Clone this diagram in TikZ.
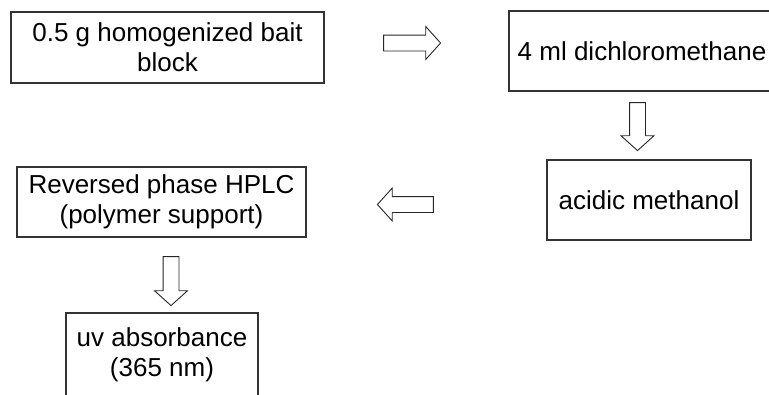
\documentclass[tikz,border=0pt]{standalone}
\usepackage{fontspec}
\setmainfont{Liberation Sans}
\usetikzlibrary{shapes.arrows, positioning}
\tikzstyle{process} = [rectangle, draw=black!80, line width=1.2pt, align=center, inner sep=0pt, font=\fontsize{26}{30}\selectfont]
\tikzstyle{flow} = [single arrow, draw=black!85, line width=0.9pt, inner sep=7.5pt, minimum width=32pt, single arrow head extend=8.5pt, single arrow tip angle=96]

\begin{document}
\begin{tikzpicture}[x=1pt, y=-1pt]
\useasboundingbox (0,0) rectangle (769,394);

% Boxes
\node (bait) [process, minimum width=313pt, minimum height=71pt] at (167.5,47.5) {0.5 g homogenized bait\\block};
\node (dcm) [process, minimum width=266pt, minimum height=80pt] at (642,51) {4 ml dichloromethane};
\node (methanol) [process, minimum width=204pt, minimum height=80pt] at (649,200) {acidic methanol};
\node (hplc) [process, minimum width=289pt, minimum height=70pt] at (161.5,202) {Reversed phase HPLC\\(polymer support)};
\node (uv) [process, minimum width=192pt, minimum height=84pt] at (162,355) {uv absorbance\\(365 nm)};

% Block arrows between the steps
\node (flow1) [flow, minimum height=57pt] at (408.5,43) {};
\node (flow2) [flow, minimum height=48pt, shape border rotate=270] at (637.5,123) {};
\node (flow3) [flow, minimum height=56pt, shape border rotate=180] at (409,204.5) {};
\node (flow4) [flow, minimum height=49pt, shape border rotate=270] at (171,277.5) {};

\end{tikzpicture}
\end{document}
